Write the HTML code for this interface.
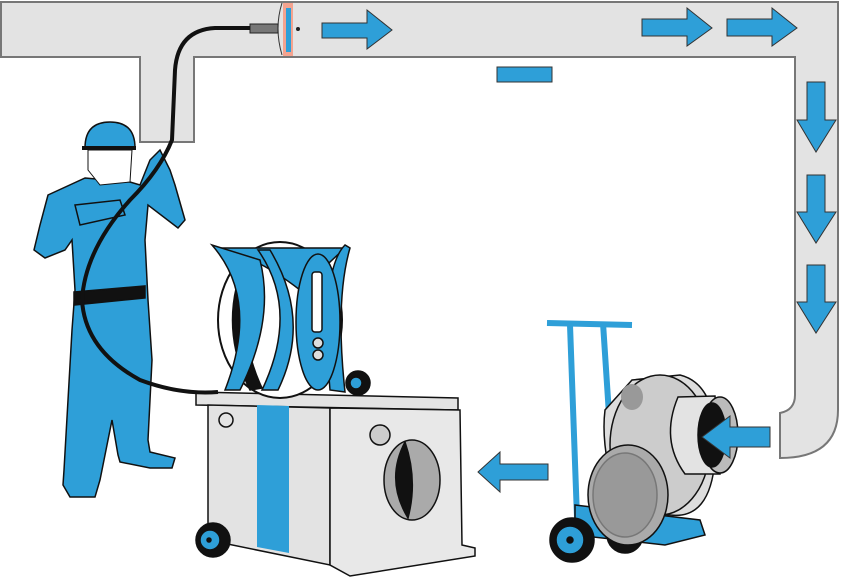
<!DOCTYPE html>
<html><head><meta charset="utf-8"><style>html,body{margin:0;padding:0;background:#fff}svg{display:block}</style></head>
<body>
<svg width="850" height="577" viewBox="0 0 850 577" xmlns="http://www.w3.org/2000/svg">
<!-- duct -->
<path d="M1,2 L838,2 L838,410 Q838,458 780,458 L780,413 Q795,410 795,395 L795,57 L194,57 L194,142 L140,142 L140,57 L1,57 Z" fill="#e3e3e3" stroke="#777" stroke-width="2"/>
<rect x="497" y="67" width="55" height="15" fill="#2e9fd8" stroke="#333" stroke-width="1"/>
<!-- brush at nozzle -->
<rect x="283" y="3" width="10" height="53" fill="#f4a38f"/>
<rect x="286" y="8" width="5" height="44" fill="#2e9fd8"/>
<path d="M282,3 Q274,28 282,55" fill="none" stroke="#333" stroke-width="1"/>
<rect x="250" y="24" width="28" height="9" fill="#777" stroke="#222"/>
<circle cx="298" cy="29" r="2" fill="#222"/>
<!-- arrows -->
<g fill="#2e9fd8" stroke="#333" stroke-width="1">
<path d="M322,23 L367,23 L367,10 L392,30 L367,49 L367,38 L322,38 Z"/>
<path d="M642,19 L687,19 L687,8 L712,28 L687,46 L687,36 L642,36 Z"/>
<path d="M727,19 L772,19 L772,8 L797,28 L772,46 L772,36 L727,36 Z"/>
<path d="M807,82 L825,82 L825,120 L836,120 L816,152 L797,120 L807,120 Z"/>
<path d="M807,175 L825,175 L825,212 L836,212 L816,243 L797,212 L807,212 Z"/>
<path d="M807,265 L825,265 L825,302 L836,302 L816,333 L797,302 L807,302 Z"/>
<path d="M548,464 L500,464 L500,452 L478,472 L500,492 L500,480 L548,480 Z"/>
</g>
<!-- blower -->
<g stroke="#111" stroke-width="1.5">
<path d="M570,325 L578,545 M603,323 L610,430" stroke="#2e9fd8" stroke-width="6"/>
<path d="M547,323 L632,325" stroke="#2e9fd8" stroke-width="6"/>
<path d="M575,505 L700,520 L705,535 L665,545 L575,535 Z" fill="#2e9fd8"/>
<circle cx="572" cy="540" r="22" fill="#111"/><circle cx="570" cy="540" r="14" fill="#2e9fd8"/><circle cx="570" cy="540" r="3" fill="#111"/>
<circle cx="625" cy="535" r="18" fill="#111"/>
<path d="M632,380 L680,375 Q720,385 715,460 Q710,520 670,515 L620,510 Q600,450 605,410 Z" fill="#ddd"/>
<ellipse cx="660" cy="445" rx="50" ry="70" fill="#ccc"/>
<path d="M678,397 L715,396 L720,474 L685,474 Q660,440 678,397 Z" fill="#e3e3e3"/>
<ellipse cx="720" cy="435" rx="18" ry="38" fill="#bbb"/>
<ellipse cx="712" cy="435" rx="14" ry="32" fill="#111"/>
<ellipse cx="628" cy="495" rx="40" ry="50" fill="#aaa"/>
<ellipse cx="625" cy="495" rx="32" ry="42" fill="#999" stroke="#777"/>
<ellipse cx="632" cy="397" rx="11" ry="13" fill="#999" stroke="none"/>
</g>
<path d="M770,427 L730,427 L730,416 L702,437 L730,458 L730,447 L770,447 Z" fill="#2e9fd8" stroke="#333"/>
<!-- container -->
<g stroke="#111" stroke-width="1.5">
<path d="M196,392 L458,398 L458,410 L196,405 Z" fill="#e3e3e3"/>
<path d="M208,405 L330,408 L330,565 L208,540 Z" fill="#e3e3e3"/>
<path d="M330,408 L460,410 L462,545 L475,548 L475,556 L350,576 L330,565 Z" fill="#e8e8e8"/>
<path d="M257,405 L289,406 L289,553 L257,547 Z" fill="#2e9fd8" stroke="none"/>
<circle cx="226" cy="420" r="7" fill="none"/>
<circle cx="380" cy="435" r="10" fill="#ccc"/>
<ellipse cx="412" cy="480" rx="28" ry="40" fill="#aaa"/>
<path d="M405,442 Q385,480 408,518 Q418,480 405,442 Z" fill="#111"/>
<circle cx="213" cy="540" r="17" fill="#111"/><circle cx="210" cy="540" r="10" fill="#2e9fd8"/><circle cx="209" cy="540" r="2" fill="#111"/>
</g>
<!-- reel -->
<g stroke="#111" stroke-width="1.5">
<ellipse cx="280" cy="320" rx="62" ry="78" fill="#fff" stroke-width="2"/>
<path d="M250,250 Q215,320 250,390 L262,388 Q230,320 262,252 Z" fill="#111"/>
<path d="M215,248 L345,248 L300,290 Q255,255 215,248 Z" fill="#2e9fd8"/>
<path d="M212,245 Q260,300 225,390 L240,390 Q275,320 260,260 Z" fill="#2e9fd8"/>
<path d="M258,250 Q300,310 262,390 L278,390 Q312,320 270,250 Z" fill="#2e9fd8"/>
<path d="M345,245 Q320,270 330,390 L345,392 Q335,300 350,248 Z" fill="#2e9fd8"/>
<ellipse cx="318" cy="322" rx="22" ry="68" fill="#2e9fd8"/>
<rect x="312" y="272" width="10" height="60" rx="3" fill="#fff"/>
<circle cx="318" cy="343" r="5" fill="#ddd"/><circle cx="318" cy="355" r="5" fill="#ddd"/>
<circle cx="358" cy="383" r="12" fill="#111"/><circle cx="356" cy="383" r="6" fill="#2e9fd8"/>
</g>
<!-- person -->
<g stroke="#111" stroke-width="1.5">
<path d="M85,178 L130,182 L140,185 L150,160 L160,150 L170,170 L175,185 L185,220 L178,228 L148,205 L145,240 L148,300 L152,360 L148,440 L150,452 L175,458 L172,468 L150,468 L120,462 L118,455 L112,420 L100,480 L95,497 L70,497 L63,485 L64,470 L68,400 L72,330 L75,290 L72,240 L65,250 L45,258 L34,250 L40,225 L48,195 Z" fill="#2e9fd8"/>
<path d="M88,150 L132,150 L130,182 L100,185 L88,170 Z" fill="#fff" stroke-width="1"/>
<path d="M85,148 Q85,122 110,122 Q135,122 135,148 Z" fill="#2e9fd8"/>
<path d="M82,148 L136,148" stroke-width="4"/>
<path d="M74,292 L145,286 L145,298 L74,305 Z" fill="#111"/>
<path d="M75,205 L120,200 L125,215 L80,225 Z" fill="#2e9fd8"/>
</g>
<!-- hose -->
<path d="M250,28 L215,28 Q178,30 175,70 L172,140 Q160,170 130,200 Q85,250 82,300 Q85,350 140,380 Q180,395 218,392" fill="none" stroke="#111" stroke-width="4"/>
</svg>
</body></html>
